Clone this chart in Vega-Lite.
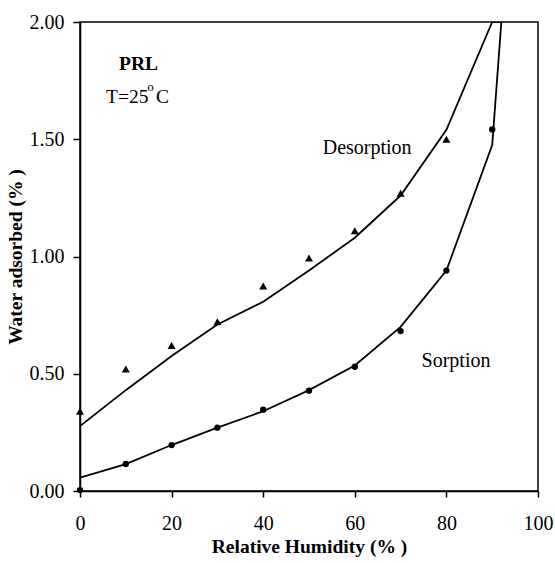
{
  "$schema": "https://vega.github.io/schema/vega-lite/v6.json",
  "width": 458,
  "height": 469,
  "autosize": "none",
  "padding": {"left": 80, "top": 22, "right": 17, "bottom": 72},
  "background": "white",
  "config": {
    "font": "Liberation Serif",
    "view": {"stroke": "black", "strokeWidth": 1.5},
    "axis": {"grid": false, "domainColor": "black", "tickColor": "black", "labelColor": "black", "titleColor": "black", "domainWidth": 1.5, "tickWidth": 1.5, "labelFont": "Liberation Serif", "titleFont": "Liberation Serif", "labelFontSize": 20, "titleFontSize": 19.5, "titleFontWeight": "bold"}
  },
  "datasets": {
    "points": [
      {"rh": 0, "w": 0.34, "series": "Desorption"},
      {"rh": 10, "w": 0.52, "series": "Desorption"},
      {"rh": 20, "w": 0.62, "series": "Desorption"},
      {"rh": 30, "w": 0.722, "series": "Desorption"},
      {"rh": 40, "w": 0.874, "series": "Desorption"},
      {"rh": 50, "w": 0.994, "series": "Desorption"},
      {"rh": 60, "w": 1.11, "series": "Desorption"},
      {"rh": 70, "w": 1.27, "series": "Desorption"},
      {"rh": 80, "w": 1.5, "series": "Desorption"},
      {"rh": 0, "w": 0.004, "series": "Sorption"},
      {"rh": 10, "w": 0.115, "series": "Sorption"},
      {"rh": 20, "w": 0.196, "series": "Sorption"},
      {"rh": 30, "w": 0.27, "series": "Sorption"},
      {"rh": 40, "w": 0.347, "series": "Sorption"},
      {"rh": 50, "w": 0.428, "series": "Sorption"},
      {"rh": 60, "w": 0.53, "series": "Sorption"},
      {"rh": 70, "w": 0.682, "series": "Sorption"},
      {"rh": 80, "w": 0.94, "series": "Sorption"},
      {"rh": 90, "w": 1.542, "series": "Sorption"}
    ],
    "fits": [
      {"rh": 0, "w": 0.277, "series": "Desorption"},
      {"rh": 10, "w": 0.43, "series": "Desorption"},
      {"rh": 20, "w": 0.576, "series": "Desorption"},
      {"rh": 30, "w": 0.71, "series": "Desorption"},
      {"rh": 40, "w": 0.807, "series": "Desorption"},
      {"rh": 50, "w": 0.94, "series": "Desorption"},
      {"rh": 60, "w": 1.08, "series": "Desorption"},
      {"rh": 70, "w": 1.26, "series": "Desorption"},
      {"rh": 80, "w": 1.54, "series": "Desorption"},
      {"rh": 90, "w": 2.0, "series": "Desorption"},
      {"rh": 92, "w": 2.0, "series": "Desorption"},
      {"rh": 0, "w": 0.057, "series": "Sorption"},
      {"rh": 10, "w": 0.115, "series": "Sorption"},
      {"rh": 20, "w": 0.196, "series": "Sorption"},
      {"rh": 30, "w": 0.27, "series": "Sorption"},
      {"rh": 40, "w": 0.34, "series": "Sorption"},
      {"rh": 50, "w": 0.43, "series": "Sorption"},
      {"rh": 60, "w": 0.535, "series": "Sorption"},
      {"rh": 70, "w": 0.7, "series": "Sorption"},
      {"rh": 80, "w": 0.94, "series": "Sorption"},
      {"rh": 90, "w": 1.475, "series": "Sorption"},
      {"rh": 92, "w": 2.0, "series": "Sorption"}
    ],
    "curveLabels": [
      {"rh": 62.7, "w": 1.437, "text": "Desorption"},
      {"rh": 82.1, "w": 0.529, "text": "Sorption"}
    ],
    "sample": [{"rh": 12.8, "w": 1.795, "text": "PRL"}],
    "temp": [{"rh": 5.68, "w": 1.656, "text": "T=25"}, {"rh": 16.6, "w": 1.656, "text": "C"}],
    "deg": [{"rh": 14.7, "w": 1.705, "text": "o"}]
  },
  "encoding": {
    "x": {"field": "rh", "type": "quantitative", "scale": {"domain": [0, 100]}, "axis": {"title": "Relative Humidity (% )", "values": [0, 20, 40, 60, 80, 100], "tickSize": 6, "labelPadding": 16, "titlePadding": 4, "labelFlush": false}},
    "y": {"field": "w", "type": "quantitative", "scale": {"domain": [0, 2]}, "axis": {"title": "Water adsorbed (% )", "values": [0, 0.5, 1, 1.5, 2], "format": ".2f", "tickSize": 7, "labelPadding": 9, "titlePadding": 4, "labelFlush": false}}
  },
  "layer": [
    {"data": {"name": "fits"}, "mark": {"type": "line", "color": "black", "strokeWidth": 1.8, "clip": true}, "encoding": {"detail": {"field": "series"}}},
    {"data": {"name": "points"}, "mark": {"type": "point", "filled": true, "color": "black", "opacity": 1, "clip": false}, "encoding": {"shape": {"field": "series", "type": "nominal", "scale": {"domain": ["Desorption", "Sorption"], "range": ["triangle-up", "circle"]}, "legend": null}, "size": {"field": "series", "type": "nominal", "scale": {"domain": ["Desorption", "Sorption"], "range": [65, 40]}, "legend": null}}},
    {"data": {"name": "curveLabels"}, "mark": {"type": "text", "fontSize": 20, "baseline": "alphabetic", "align": "center", "color": "black"}, "encoding": {"text": {"field": "text"}}},
    {"data": {"name": "sample"}, "mark": {"type": "text", "fontSize": 19.5, "fontWeight": "bold", "baseline": "alphabetic", "align": "center", "color": "black"}, "encoding": {"text": {"field": "text"}}},
    {"data": {"name": "temp"}, "mark": {"type": "text", "fontSize": 19.5, "baseline": "alphabetic", "align": "left", "color": "black"}, "encoding": {"text": {"field": "text"}}},
    {"data": {"name": "deg"}, "mark": {"type": "text", "fontSize": 13, "baseline": "alphabetic", "align": "left", "color": "black"}, "encoding": {"text": {"field": "text"}}}
  ]
}
